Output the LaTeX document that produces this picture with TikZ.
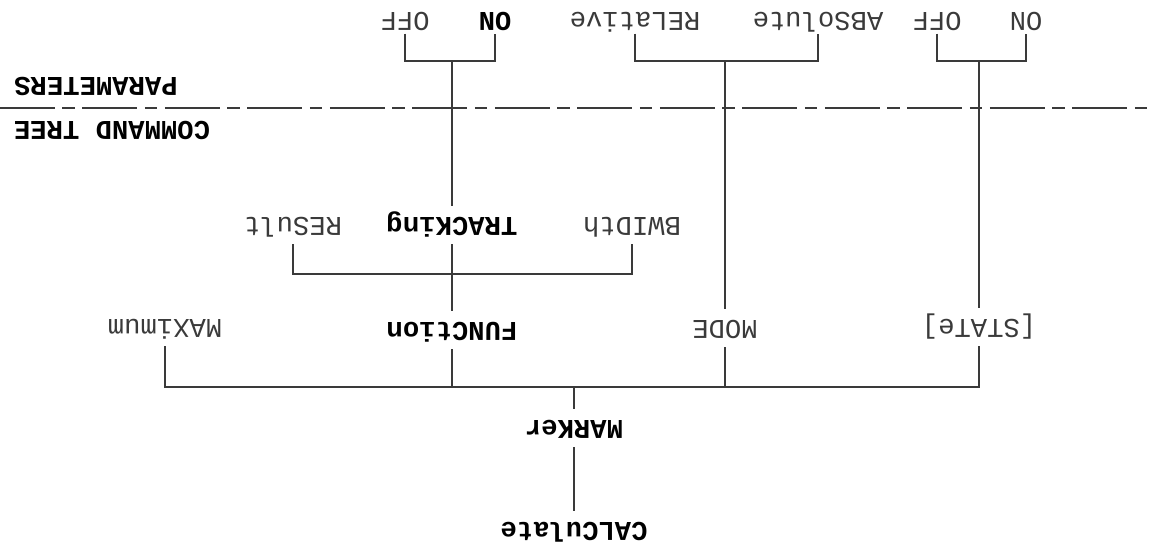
\documentclass[tikz,border=0pt]{standalone}
\usepackage{fontspec}
\setmonofont{Liberation Mono}
\usepackage{xcolor}
\definecolor{plotInk}{HTML}{3A3A3A}
\newcommand{\treefont}{\fontsize{15.5}{18}\selectfont\ttfamily}
\tikzset{
  cmd/.style={rotate=180, font=\treefont, text=plotInk, inner xsep=0pt,
    inner ysep=0.22cm, text height=0.31cm, text depth=0pt},
  cmdkey/.style={cmd, font=\treefont\bfseries, text=black},
  parm/.style={cmd, inner ysep=0.1cm},
  parmkey/.style={parm, font=\treefont\bfseries, text=black},
  wire/.style={draw=plotInk, line width=0.6pt},
  divider/.style={draw=plotInk, line width=0.6pt,
    dash pattern=on 1.1cm off 0.15cm on 0.25cm off 0.15cm},
}

\begin{document}
\begin{tikzpicture}[x=0.02cm, y=-0.02cm]
  \useasboundingbox (0,0) rectangle (1149,551);
  % command tree
  \node[cmdkey] (calc) at (574,530) {CALCulate};
  \node[cmdkey] (marker) at (574,428) {MARKer};
  \node[cmd] (max) at (165,327) {MAXimum};
  \node[cmdkey] (func) at (452,330) {FUNCtion};
  \node[cmd] (mode) at (725,328) {MODE};
  \node[cmd] (state) at (979,327) {[STATe]};
  \node[cmd] (res) at (293,225) {RESult};
  \node[cmdkey] (trk) at (452,225) {TRACKing};
  \node[cmd] (bw) at (632,225) {BWIDth};
  % parameters
  \node[parm] (offA) at (405,20.5) {OFF};
  \node[parmkey] (onA) at (495,20.5) {ON};
  \node[parm] (rel) at (635,20.5) {RELative};
  \node[parm] (abs) at (818,20.5) {ABSolute};
  \node[parm] (offB) at (937,20.5) {OFF};
  \node[parm] (onB) at (1026,20.5) {ON};
  % headings
  \node[parmkey] (parhead) at (96,85) {PARAMETERS};
  \node[parmkey] (cmdhead) at (112,129) {COMMAND TREE};
  \coordinate (sepL) at (0,108);
  \coordinate (sepR) at (1149,108);
  \draw[divider] (sepL) -- (sepR);
  % buses
  \coordinate (bus) at (574,387);
  \coordinate (tbus) at (452,274);
  \coordinate (pbusA) at (452,61);
  \coordinate (pbusB) at (725,61);
  \coordinate (pbusC) at (979,61);
  \draw[wire] (calc.south) -- (marker.north);
  \draw[wire] (marker.south) -- (bus);
  \draw[wire] (max.north) |- (bus) -| (state.north);
  \draw[wire] (func.north) -- (func.north |- bus);
  \draw[wire] (mode.north) -- (mode.north |- bus);
  \draw[wire] (res.north) |- (tbus) -| (bw.north);
  \draw[wire] (trk.north) -- (func.south);
  \draw[wire] (offA.north) |- (pbusA) -| (onA.north);
  \draw[wire] (pbusA) -- (trk.south);
  \draw[wire] (rel.north) |- (pbusB) -| (abs.north);
  \draw[wire] (pbusB) -- (mode.south);
  \draw[wire] (offB.north) |- (pbusC) -| (onB.north);
  \draw[wire] (pbusC) -- (state.south);
\end{tikzpicture}
\end{document}
